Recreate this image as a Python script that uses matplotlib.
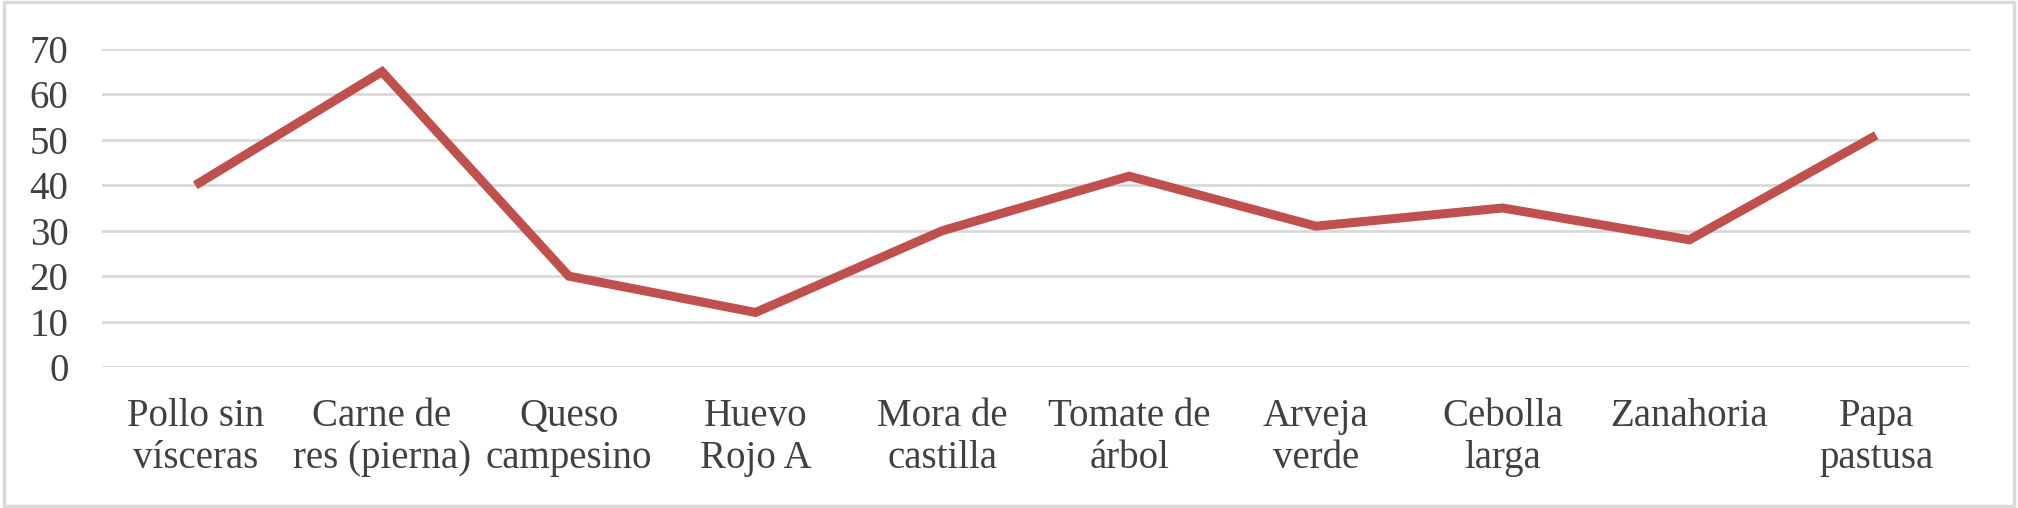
import matplotlib.pyplot as plt
from matplotlib.patches import Rectangle

# datos
productos = ['Pollo sin\nvísceras', 'Carne de\nres (pierna)', 'Queso\ncampesino', 'Huevo\nRojo A',
             'Mora de\ncastilla', 'Tomate de\nárbol', 'Arveja\nverde', 'Cebolla\nlarga',
             'Zanahoria', 'Papa\npastusa']
valores = [40, 65, 20, 12, 30, 42, 31, 35, 28, 51]
yticks = [0, 10, 20, 30, 40, 50, 60, 70]

plt.rcParams['font.family'] = ['Liberation Serif', 'DejaVu Serif']

fig = plt.figure(figsize=(20.18, 5.08), dpi=100)
ax = fig.add_axes([0.0505, 0.2776, 0.9255, 0.6259])

x = range(len(productos))
ax.plot(x, valores, color='#c0504d', linewidth=6.5, solid_joinstyle='miter', solid_capstyle='butt', zorder=3)

ax.set_xlim(-0.5, len(productos) - 0.5)
ax.set_ylim(0, 70)
ax.set_yticks(yticks)
ax.set_xticks(list(x))
ax.set_xticklabels(productos, linespacing=1.2)
ax.yaxis.grid(True, color='#d9d9d9', linewidth=2)
ax.set_axisbelow(True)
for s in ax.spines.values():
    s.set_visible(False)
ax.tick_params(axis='both', length=0, labelsize=28, colors='#404040')
ax.tick_params(axis='y', pad=24)
ax.tick_params(axis='x', pad=22)

# marco exterior
fig.patches.append(Rectangle((0.002, 0.004), 0.996, 0.992, transform=fig.transFigure,
                             fill=False, edgecolor='#d9d9d9', linewidth=2.5))

fig.savefig('out.png', dpi=100, facecolor='white')
